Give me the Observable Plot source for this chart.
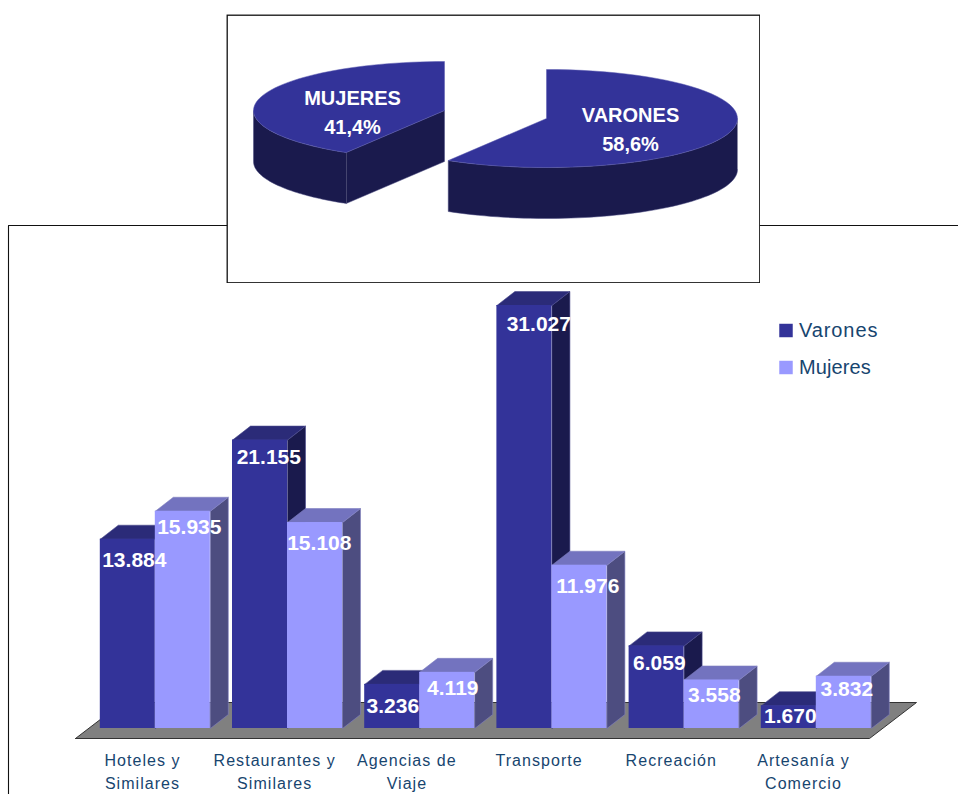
<!DOCTYPE html>
<html>
<head>
<meta charset="utf-8">
<script src="https://cdn.jsdelivr.net/npm/d3@7"></script>
<script src="https://cdn.jsdelivr.net/npm/@observablehq/plot@0.6"></script>
<style>
html,body{margin:0;padding:0;background:#fff}
#page{position:relative;width:958px;height:794px;overflow:hidden;background:#fff}
#page svg{position:absolute;display:block;background:transparent;max-width:none}
</style>
</head>
<body>
<div id="page"></div>
<script>
// ---- data ----
const categories = ["Hoteles y\nSimilares","Restaurantes y\nSimilares","Agencias de\nViaje","Transporte","Recreación","Artesanía y\nComercio"];
const varones = [13884,21155,3236,31027,6059,1670];
const mujeres = [15935,15108,4119,11976,3558,3832];
const valueLabels = {varones:["13.884","21.155","3.236","31.027","6.059","1.670"], mujeres:["15.935","15.108","4.119","11.976","3.558","3.832"]};
const pieNames = ["VARONES","MUJERES"];
const pieShares = [58.6,41.4];
const pieLabels = ["VARONES\n58,6%","MUJERES\n41,4%"];
const legendNames = ["Varones","Mujeres"];

// ---- layout ----
const FONT = "Liberation Sans, Arial, sans-serif";
const W = 958, H = 794;
const pxX = 132.2, pxY = 423 / 31027;           // px per group, px per unit of value
const x0 = 99.8, y0 = 728;
const barW = 55 / pxX, depthX = 18 / pxX, depthY = 14 / pxY;
const ux = px => (px - x0) / pxX, uy = py => (y0 - py) / pxY;
const colors = {
  varones:{front:"#333399",top:"#2b2b78",side:"#1a1a4d",edge:"#4a4a8c"},
  mujeres:{front:"#9999ff",top:"#7373bf",side:"#4d4d80",edge:"#8080c0"}
};
const nudge = {
  varones:[[6.5,21.3],[8.8,17.4],[0.6,21.8],[14.4,19],[2.7,17.6],[1.5,10.8]],
  mujeres:[[6.5,16.2],[4.3,21],[5.6,16.2],[8.4,21.3],[2.7,15.5],[3,13.2]]
};

function bars(key, values, offset) {
  const c = colors[key];
  const rows = values.map((v,i)=>({i,v,x1:i+offset,x2:i+offset+barW}));
  const top = rows.flatMap(r=>[[r.x1,r.v],[r.x1+depthX,r.v+depthY],[r.x2+depthX,r.v+depthY],[r.x2,r.v],[r.x1,r.v]].map(([x,y])=>({id:r.i,x,y})));
  const side = rows.flatMap(r=>[[r.x2,r.v],[r.x2+depthX,r.v+depthY],[r.x2+depthX,depthY],[r.x2,0],[r.x2,r.v]].map(([x,y])=>({id:r.i,x,y})));
  return [
    Plot.line(side,{x:"x",y:"y",z:"id",fill:c.side,stroke:c.edge,strokeWidth:0.6}),
    Plot.line(top,{x:"x",y:"y",z:"id",fill:c.top,stroke:c.edge,strokeWidth:0.6}),
    Plot.rect(rows,{x1:"x1",x2:"x2",y1:0,y2:"v",fill:c.front})
  ];
}
function valueText(key, values, offset) {
  const rows = values.map((v,i)=>({
    x:i+offset+barW/2+nudge[key][i][0]/pxX,
    y:v-nudge[key][i][1]/pxY,
    t:valueLabels[key][i]}));
  return Plot.text(rows,{x:"x",y:"y",text:"t",fill:"#fff",fontWeight:"bold",fontSize:21,fontFamily:FONT});
}
const spaced = s => (index,scales,values,dims,ctx,next)=>{
  const g = next(index,scales,values,dims,ctx);
  g.style.letterSpacing = s;
  return g;
};

const floor = [[75,738],[122,702],[916,702],[869,738],[75,738]].map(([x,y])=>({x:ux(x),y:uy(y)}));
const border = [[8,794],[8,225],[958,225]].map(([x,y])=>({x:ux(x),y:uy(y)}));
const catRows = categories.map((c,i)=>({x:i+ux(142)-ux(x0),y:uy(749),c}));
const legendRows = legendNames.map((n,i)=>({x:ux(785.5),tx:ux(798.5),y:uy(i?367:330),n,fill:i?colors.mujeres.front:colors.varones.front}));

const chart = Plot.plot({
  width:W,height:H,margin:0,
  x:{type:"linear",domain:[ux(0),ux(W)],range:[0,W],axis:null},
  y:{type:"linear",domain:[uy(H),uy(0)],range:[H,0],axis:null},
  style:{background:"transparent",fontFamily:FONT},
  marks:[
    Plot.line(border,{x:"x",y:"y",stroke:"#111",strokeWidth:1.1}),
    Plot.line(floor,{x:"x",y:"y",fill:"#808080",stroke:"#333",strokeWidth:1}),
    ...bars("varones",varones,0),
    ...bars("mujeres",mujeres,barW),
    valueText("varones",varones,0),
    valueText("mujeres",mujeres,barW),
    Plot.text(catRows,{x:"x",y:"y",text:"c",fill:"#17456f",fontSize:16,lineHeight:1.44,lineAnchor:"top",fontFamily:FONT,render:spaced("1.05px")}),
    Plot.dot(legendRows,{x:"x",y:"y",symbol:"square",r:7.6,fill:d=>d.fill,stroke:"none"}),
    ...legendRows.map((r,i)=>Plot.text([r],{x:"tx",y:"y",text:"n",textAnchor:"start",fill:"#17456f",fontSize:20,fontFamily:FONT,render:spaced(i?"0.1px":"0.9px")}))
  ]
});

// ---- pie (own frame, own scales) ----
const pieW = 534, pieH = 269, rx = 191, ry = 49, depth = 51/ry;
const pxToX = p => (p-226)/rx, pxToY = p => (14+pieH-p)/ry;
const cut = pieShares[0]/100*2*Math.PI;                 // angle of the boundary, clockwise from 12 o'clock
const pt = (cx,cy,a,d=0)=>({x:cx+Math.sin(a),y:cy+Math.cos(a)-d});
const arc = (cx,cy,a,b,d=0)=>d3.range(0,61).map(k=>pt(cx,cy,a+(b-a)*k/60,d));
const cV = [pxToX(546),pxToY(118)], cM = [pxToX(444),pxToY(110)];
const tag = (id,a)=>a.map(p=>({...p,id}));
const topFaces = [
  ...tag("V",[{x:cV[0],y:cV[1]},...arc(cV[0],cV[1],0,cut),{x:cV[0],y:cV[1]}]),
  ...tag("M",[{x:cM[0],y:cM[1]},...arc(cM[0],cM[1],cut,2*Math.PI),{x:cM[0],y:cM[1]}])
];
const sideFaces = [
  ...tag("Vs",[...arc(cV[0],cV[1],Math.PI/2,cut),...arc(cV[0],cV[1],cut,Math.PI/2,depth)]),
  ...tag("Ms",[...arc(cM[0],cM[1],cut,1.5*Math.PI),...arc(cM[0],cM[1],1.5*Math.PI,cut,depth)]),
  ...tag("Mc",[pt(cM[0],cM[1],cut),{x:cM[0],y:cM[1]},{x:cM[0],y:cM[1]-depth},pt(cM[0],cM[1],cut,depth)])
];
const pieText = [
  {x:pxToX(630),y:pxToY(126.5),t:pieLabels[0]},
  {x:pxToX(352),y:pxToY(109.5),t:pieLabels[1]}
];
const pie = Plot.plot({
  width:pieW,height:pieH,margin:0,
  x:{type:"linear",domain:[0,pieW/rx],range:[0,pieW],axis:null},
  y:{type:"linear",domain:[0,pieH/ry],range:[pieH,0],axis:null},
  style:{background:"transparent",fontFamily:FONT},
  marks:[
    Plot.frame({fill:"#fff",stroke:"#111",strokeWidth:1.3,inset:0.7}),
    Plot.line(sideFaces,{x:"x",y:"y",z:"id",fill:"#1a1a4d",stroke:"#4a4a80",strokeWidth:0.5}),
    Plot.line(topFaces,{x:"x",y:"y",z:"id",fill:"#333399",stroke:"#5a5ab0",strokeWidth:0.5}),
    Plot.text(pieText,{x:"x",y:"y",text:"t",fill:"#fff",fontWeight:"bold",fontSize:20,lineHeight:1.48,fontFamily:FONT})
  ]
});

const page = document.getElementById("page");
chart.style.left="0px"; chart.style.top="0px";
pie.style.left="226px"; pie.style.top="14px";
page.append(chart,pie);
</script>
</body>
</html>
